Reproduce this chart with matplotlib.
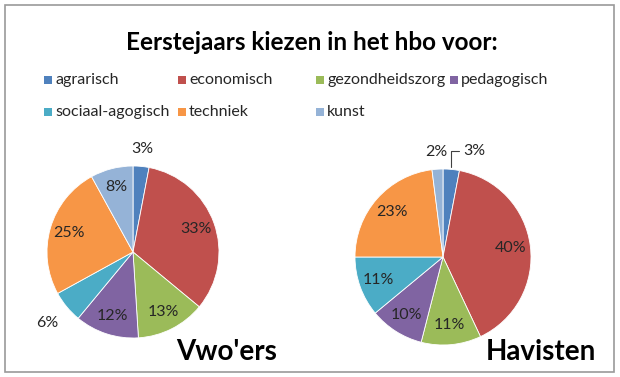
#!/usr/bin/env python3
"""Eerstejaars kiezen in het hbo voor: two pie charts (vwo'ers / havisten)."""
import numpy as np
import matplotlib
matplotlib.use("Agg")
import matplotlib.pyplot as plt
from matplotlib.patches import Rectangle

# --- data -------------------------------------------------------------
categories = ["agrarisch", "economisch", "gezondheidszorg", "pedagogisch",
              "sociaal-agogisch", "techniek", "kunst"]
vwo = [3, 33, 13, 12, 6, 25, 8]
havo = [3, 40, 11, 10, 11, 23, 2]
colors = ["#4F81BD", "#C0504D", "#9BBB59", "#8064A2",
          "#4BACC6", "#F79646", "#95B3D7"]
title = "Eerstejaars kiezen in het hbo voor:"

W, H = 620, 377
plt.rcParams["font.family"] = ["Lato", "DejaVu Sans"]
LABEL_FS = 11.5


def fx(x):
    return x / W


def fy(y):
    return 1 - y / H


def draw_pie(fig, cx, cy, r, values, outside, name, name_x, skip=()):
    box = 120  # half size of axes in px, 100 px per data unit
    ax = fig.add_axes([fx(cx - box), fy(cy + box), 2 * box / W, 2 * box / H])
    wedges, _ = ax.pie(values, colors=colors, startangle=90, counterclock=False,
                       radius=r / 100,
                       wedgeprops=dict(edgecolor="white", linewidth=0.6))
    ax.set_xlim(-1.2, 1.2)
    ax.set_ylim(-1.2, 1.2)
    ax.set_aspect("auto")
    for i, (w, v) in enumerate(zip(wedges, values)):
        if i in skip:
            continue
        mid = np.deg2rad((w.theta1 + w.theta2) / 2)
        d = outside.get(i, 0.78)
        x, y = np.cos(mid) * r / 100 * d, np.sin(mid) * r / 100 * d
        ax.text(x, y, f"{v}%", ha="center", va="center", fontsize=LABEL_FS,
                color="#262626")
    fig.text(fx(name_x), fy(352), name, ha="center", va="center",
             fontsize=20, fontweight="bold", color="black")
    return ax, wedges


fig = plt.figure(figsize=(W / 100, H / 100), dpi=100)
fig.patch.set_facecolor("white")
fig.patches.append(Rectangle((fx(5), fy(372)), fx(609), 367 / H,
                             transform=fig.transFigure, fill=False,
                             edgecolor="#9a9a9a", linewidth=1.2))

fig.text(fx(312), fy(42), title, ha="center", va="center",
         fontsize=17.5, fontweight="bold")

# legend, 4 columns like Excel
col_x = [44, 178, 316, 450]
row_y = [80, 112]
for i, (cat, c) in enumerate(zip(categories, colors)):
    x, y = col_x[i % 4], row_y[i // 4]
    fig.patches.append(Rectangle((fx(x), fy(y + 4)), 8 / W, 8 / H,
                                 transform=fig.transFigure, facecolor=c,
                                 edgecolor="none"))
    fig.text(fx(x + 11), fy(y), cat, ha="left", va="center", fontsize=11.5,
             color="#262626")

draw_pie(fig, 133, 252, 86, vwo, {0: 1.2, 4: 1.3}, "Vwo'ers", 227)
ax2, w2 = draw_pie(fig, 443, 257, 88, havo, {0: 1.2, 6: 1.2},
                   "Havisten", 541, skip=(0,))
# the 3% label of havisten sits to the right with a leader line
mid = np.deg2rad((w2[0].theta1 + w2[0].theta2) / 2)
ax2.annotate(f"{havo[0]}%", xy=(np.cos(mid) * 0.9, np.sin(mid) * 0.9),
             xytext=(0.2, 1.06), ha="left", va="center", fontsize=LABEL_FS,
             color="#262626",
             arrowprops=dict(arrowstyle="-", color="#404040", lw=0.8,
                             connectionstyle="angle,angleA=0,angleB=90,rad=0",
                             shrinkA=1, shrinkB=0))

fig.savefig("out.png", dpi=100)
